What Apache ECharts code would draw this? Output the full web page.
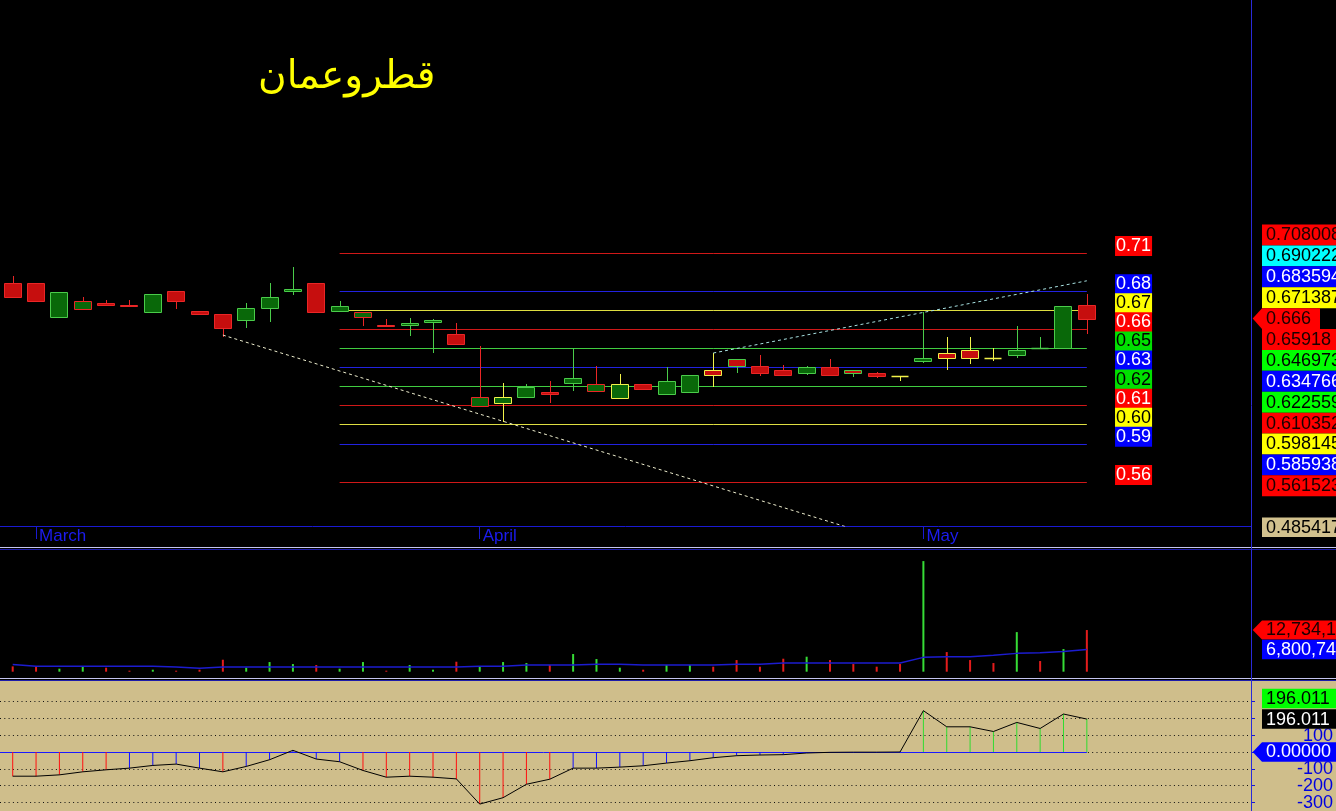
<!DOCTYPE html>
<html><head><meta charset="utf-8">
<script src="https://cdn.jsdelivr.net/npm/echarts@6/dist/echarts.min.js"></script>
<style>html,body{margin:0;padding:0;background:#000;overflow:hidden}#c{width:1336px;height:811px}</style>
</head><body><div id="c"></div>
<script>
// ---------------- data ----------------
const title = 'قطروعمان';
const dates = ['2010-02-25',
  '2010-03-01','2010-03-02','2010-03-03','2010-03-04','2010-03-07','2010-03-08','2010-03-09','2010-03-10','2010-03-11',
  '2010-03-14','2010-03-15','2010-03-16','2010-03-17','2010-03-18','2010-03-21','2010-03-22','2010-03-23','2010-03-28','2010-03-29',
  '2010-04-01','2010-04-04','2010-04-05','2010-04-06','2010-04-07','2010-04-08','2010-04-11','2010-04-12','2010-04-13','2010-04-14',
  '2010-04-15','2010-04-18','2010-04-19','2010-04-20','2010-04-21','2010-04-22','2010-04-25','2010-04-26','2010-04-27',
  '2010-05-02','2010-05-03','2010-05-04','2010-05-05','2010-05-06','2010-05-09','2010-05-10','2010-05-11'];
const opens  = [0.689,0.689,0.667,0.672,0.676,0.675,0.670,0.684,0.671,0.669,0.665,0.673,0.684,0.689,0.671,0.667,0.662,0.662,0.664,0.656,
                0.610,0.612,0.616,0.619,0.625,0.620,0.615,0.624,0.618,0.619,0.633,0.640,0.636,0.633,0.631,0.635,0.633,0.631,0.629,
                0.639,0.644,0.646,0.641,0.643,0.647,0.647,0.675];
const closes = [0.680,0.677,0.683,0.677,0.675,0.674,0.682,0.677,0.669,0.660,0.673,0.680,0.685,0.670,0.674,0.670,0.661,0.663,0.665,0.650,
                0.616,0.616,0.622,0.618,0.628,0.624,0.624,0.621,0.626,0.630,0.630,0.636,0.631,0.630,0.635,0.630,0.631,0.629,0.629,
                0.641,0.641,0.641,0.641,0.646,0.647,0.674,0.666];
const lows   = [0.680,0.677,0.667,0.672,0.675,0.674,0.670,0.672,0.669,0.654,0.660,0.664,0.681,0.670,0.671,0.6615,0.661,0.655,0.644,0.650,
                0.610,0.600,0.616,0.612,0.620,0.620,0.615,0.621,0.618,0.619,0.622,0.6315,0.629,0.630,0.630,0.630,0.6285,0.628,0.626,
                0.6375,0.633,0.637,0.639,0.641,0.647,0.647,0.6565];
const highs  = [0.693,0.689,0.683,0.680,0.678,0.678,0.682,0.684,0.671,0.669,0.676,0.689,0.699,0.689,0.677,0.670,0.6655,0.6665,0.666,0.663,
                0.6485,0.625,0.624,0.626,0.647,0.636,0.6305,0.624,0.635,0.630,0.644,0.640,0.643,0.6365,0.6355,0.640,0.633,0.632,0.629,
                0.670,0.6545,0.654,0.647,0.6615,0.654,0.674,0.682];
const volumes = [1630000,1630000,920000,1630000,1220000,310000,610000,310000,610000,3660000,1220000,2950000,2340000,2040000,920000,
                 2950000,310000,2040000,610000,3050000,1630000,2950000,2650000,2040000,5400000,3870000,1220000,610000,2040000,2040000,
                 1530000,3560000,1530000,3970000,4580000,3560000,2340000,1530000,2340000,33800000,6000000,3560000,2650000,12100000,
                 3260000,6920000,12734146];
const volumeMA = [2200000,1700000,1630000,1630000,1630000,1630000,1630000,1430000,1020000,1430000,1430000,1430000,1430000,1430000,
                  1430000,1430000,1430000,1430000,1430000,1430000,1630000,1630000,2040000,2040000,2040000,2240000,2240000,2040000,
                  2040000,2040000,2040000,2240000,2240000,2650000,2650000,2650000,2650000,2650000,2650000,4380000,4580000,4580000,
                  4990000,5600000,5800000,6200000,6800748];
const cci = [-144,-144,-136,-118,-106,-96,-80,-72,-96,-118,-86,-46,10,-42,-58,-110,-150,-144,-150,-160,-310,-272,-192,-162,
             -96,-96,-90,-82,-66,-52,-34,-22,-18,-16,-6,-2,-1,-1,0,246,150,150,122,176,140,226,196.011];
const levels = [0.708008,0.683594,0.671387,0.65918,0.646973,0.634766,0.622559,0.610352,0.598145,0.585938,0.561523];
const levelKinds = ['red','blue','yellow','red','green','blue','green','red','yellow','blue','red'];
const levelStart = 14;
const downTrend = [[9,0.6555],[46,0.485417]];
const upTrend = [[30,0.644],[46,0.690222]];
const cciGrid = [300,200,100,0,-100,-200,-300];
const cciLabels = [100,-100,-200,-300];
const monthNames = {'02':'February','03':'March','04':'April','05':'May'};

// ---------------- styles ----------------
const C = {rFill:'#c60e0e', rBorder:'#ea2626', gFill:'#096809', gBorder:'#4acc4a', yBorder:'#f2f24a'};
const LINE = {red:'#d01818', blue:'#2222e0', yellow:'#dede40', green:'#40cc40'};
const LBL = {red:{bg:'#ff0000',fg:'#ffffff'}, blue:{bg:'#0000ff',fg:'#ffffff'}, yellow:{bg:'#ffff00',fg:'#000000'}, green:{bg:'#00e000',fg:'#000000'}};
const TAG = {red:{bg:'#ff0000',fg:'#1a0000'}, cyan:{bg:'#00ffff',fg:'#000000'}, blue:{bg:'#0000ff',fg:'#ffffff'},
             yellow:{bg:'#ffff00',fg:'#000000'}, green:{bg:'#00ff00',fg:'#000000'}, tan:{bg:'#d2c18e',fg:'#000000'},
             black:{bg:'#000000',fg:'#ffffff'}};
const AXIS_BLUE = '#1a1ad2';
const TAN = '#cfbe8b';
const FONT = '"Liberation Sans", Arial, sans-serif';

const last = closes.length - 1;
const monthStarts = dates.map((d,i)=>i).filter(i => i>0 && dates[i].slice(5,7) !== dates[i-1].slice(5,7));
const X_MIN = -0.544, X_MAX = 53.03;

function renderCandle(params, api) {
  const i = api.value(0), o = api.value(1), c = api.value(2), l = api.value(3), h = api.value(4);
  const pc = i > 0 ? closes[i-1] : null;
  const up = c > o;
  let border;
  if (pc === null) border = up ? C.gBorder : C.rBorder;
  else border = c > pc ? C.gBorder : (c < pc ? C.rBorder : C.yBorder);
  const fill = up ? C.gFill : C.rFill;
  const pO = api.coord([i,o]), pC = api.coord([i,c]), pL = api.coord([i,l]), pH = api.coord([i,h]);
  const cx = Math.round(pO[0]) + 0.5;
  const top = Math.round(Math.min(pO[1],pC[1])) + 0.5;
  const bot = Math.round(Math.max(pO[1],pC[1])) + 0.5;
  const kids = [{type:'line', shape:{x1:cx,y1:Math.round(pH[1]),x2:cx,y2:Math.round(pL[1])}, style:{stroke:border,lineWidth:1}}];
  if (o === c) {
    kids.push({type:'line', shape:{x1:cx-9,y1:top,x2:cx+8,y2:top}, style:{stroke:border,lineWidth:1.5}});
  } else {
    kids.push({type:'rect', shape:{x:cx-9,y:top,width:17,height:Math.max(bot-top,1)}, style:{fill:fill,stroke:border,lineWidth:1}});
  }
  return {type:'group', children:kids};
}

const chart = echarts.init(document.getElementById('c'));
const hiddenX = g => ({gridIndex:g, type:'value', min:X_MIN, max:X_MAX, show:false});

const option = {
  backgroundColor:'#000000',
  animation:false,
  title:{text:title, left:253, top:53, textStyle:{color:'#ffff00', fontSize:39, fontWeight:'normal', fontFamily:'"DejaVu Sans", sans-serif'}},
  grid:[
    {left:0, top:0, width:1251, height:526},
    {left:0, top:550, width:1251, height:121.7},
    {left:0, top:681, width:1251, height:130}
  ],
  xAxis:[
    {gridIndex:0, type:'value', min:X_MIN, max:X_MAX, position:'bottom',
     axisLine:{show:true, onZero:false, lineStyle:{color:AXIS_BLUE,width:1}},
     axisTick:{show:true, customValues:monthStarts, length:13, lineStyle:{color:AXIS_BLUE}},
     axisLabel:{show:true, customValues:monthStarts, formatter:v=>monthNames[dates[Math.round(v)].slice(5,7)],
                color:'#1c1cf0', fontSize:17, fontFamily:'"Liberation Sans Narrow", "Arial Narrow", sans-serif',
                align:'left', verticalAlign:'top', margin:2, padding:[0,0,0,3]},
     splitLine:{show:false}},
    hiddenX(1), hiddenX(2)
  ],
  yAxis:[
    {gridIndex:0, type:'value', min:0.533344, max:0.869875, show:false},
    {gridIndex:1, type:'value', min:0, max:37190000, show:false},
    {gridIndex:2, type:'value', min:-351.2, max:422.6, position:'right',
     axisLine:{show:false, onZero:false}, splitLine:{show:false},
     axisTick:{show:true, customValues:cciGrid, length:4, lineStyle:{color:AXIS_BLUE}},
     axisLabel:{show:false}}
  ],
  series:[
    {type:'line', name:'down', xAxisIndex:0, yAxisIndex:0, data:downTrend, symbol:'none', silent:true, z:4,
     lineStyle:{color:'#ececcc', width:1, type:[3,3]},
     markLine:{silent:true, symbol:['none','none'], label:{show:false}, z:1,
       data: levels.map((v,k)=>[{coord:[levelStart,v], lineStyle:{color:LINE[levelKinds[k]],width:1,type:'solid'}},{coord:[last,v]}])}},
    {type:'line', name:'up', xAxisIndex:0, yAxisIndex:0, data:upTrend, symbol:'none', silent:true, z:4,
     lineStyle:{color:'#a8e2e2', width:1, type:[3,3]}},
    {type:'custom', name:'price', xAxisIndex:0, yAxisIndex:0, renderItem:renderCandle, z:3,
     encode:{x:0, y:[1,2,3,4]},
     data: opens.map((o,i)=>[i,o,closes[i],lows[i],highs[i]])},
    {type:'scatter', name:'levels', xAxisIndex:0, yAxisIndex:0, symbol:'rect', symbolSize:1, silent:true, z:6,
     itemStyle:{color:'rgba(0,0,0,0)', opacity:1},
     data: levels.map((v,k)=>({value:[48,v], label:{backgroundColor:LBL[levelKinds[k]].bg, color:LBL[levelKinds[k]].fg}})),
     label:{show:true, position:'inside', opacity:1, formatter:p=>p.value[1].toFixed(2), fontSize:18, fontFamily:FONT,
            padding:[1,1,0,1], lineHeight:19, offset:[0,-7]}},
    {type:'bar', name:'volume', xAxisIndex:1, yAxisIndex:1, barWidth:2, silent:true,
     data: volumes.map((v,i)=>({value:[i,v], itemStyle:{color: closes[i]>opens[i] ? '#36dc36' : '#e41c1c'}}))},
    {type:'line', name:'volMA', xAxisIndex:1, yAxisIndex:1, symbol:'none', silent:true,
     lineStyle:{color:'#1c1cd0', width:1.5}, data: volumeMA.map((v,i)=>[i,v])},
    {type:'bar', name:'cciHist', xAxisIndex:2, yAxisIndex:2, barWidth:1, silent:true, z:3,
     data: cci.map((v,i)=>({value:[i,v], itemStyle:{color: v>100 ? '#30dc30' : (v<-100 ? '#ff1010' : '#1010ff')}})),
     markLine:{silent:true, symbol:['none','none'], label:{show:false}, z:1,
       data: cciGrid.map(v=>({yAxis:v, lineStyle:{color:'#101010', width:1, type:[1,3.3]}}))
         .concat([[{coord:[X_MIN,0], lineStyle:{color:'#1a1aff', width:1, type:'solid'}},{coord:[last,0]}]])}},
    {type:'line', name:'cci', xAxisIndex:2, yAxisIndex:2, symbol:'none', silent:true, z:4,
     lineStyle:{color:'#000000', width:1}, data: cci.map((v,i)=>[i,v])}
  ]
};
chart.setOption(option);

// ---------------- value tags on the right ----------------
function tagEls(cy, text, kind, h, arrow, right) {
  const s = TAG[kind], x0 = 1262, r = right || 1340, hh = h/2;
  const shape = arrow
    ? {type:'polygon', shape:{points:[[1252.7,cy],[x0,cy-hh],[r,cy-hh],[r,cy+hh],[x0,cy+hh]]}, style:{fill:s.bg}, z:100}
    : {type:'rect', shape:{x:x0,y:cy-hh,width:r-x0,height:h}, style:{fill:s.bg}, z:100};
  return [shape, {type:'text', x:1266, y:cy+0.5, style:{text:text, fill:s.fg, font:'18px '+FONT, align:'left', verticalAlign:'middle'}, z:101}];
}
const priceEntries = levels.map((v,k)=>({v:v, kind:levelKinds[k]}))
  .concat([{v:upTrend[1][1], kind:'cyan'}, {v:closes[last], kind:'red', arrow:true, right:1320}])
  .sort((a,b)=>b.v-a.v);
let els = [
  {type:'rect', shape:{x:0,y:681,width:1336,height:130}, style:{fill:TAN}, z:0, silent:true},
  {type:'line', shape:{x1:0,y1:547.5,x2:1336,y2:547.5}, style:{stroke:'#c4c4f0',lineWidth:1}, z:50},
  {type:'line', shape:{x1:0,y1:549.5,x2:1336,y2:549.5}, style:{stroke:'#1c1caa',lineWidth:1}, z:50},
  {type:'line', shape:{x1:0,y1:678.5,x2:1336,y2:678.5}, style:{stroke:'#c4c4f0',lineWidth:1}, z:50},
  {type:'line', shape:{x1:0,y1:680.5,x2:1336,y2:680.5}, style:{stroke:'#1c1caa',lineWidth:1}, z:50},
  {type:'line', shape:{x1:1251.5,y1:0,x2:1251.5,y2:811}, style:{stroke:'#2a2ad8',lineWidth:1}, z:50}
];
// CCI axis labels, placed through the CCI axis scale
cciLabels.forEach(v => {
  els.push({type:'text', x:1333, y:chart.convertToPixel({yAxisIndex:2}, v) + 0.5,
            style:{text:String(v), fill:'#0000e0', font:'18px '+FONT, align:'right', verticalAlign:'middle'}, z:90});
});
priceEntries.forEach((e,k)=>{ els = els.concat(tagEls(235 + k*20.9, String(e.v), e.kind, 20.9, e.arrow, e.right)); });
els = els.concat(tagEls(527.2, String(downTrend[1][1]), 'tan', 19.5));
const yVol = chart.convertToPixel({yAxisIndex:1}, volumes[last]);
const yMA = Math.max(chart.convertToPixel({yAxisIndex:1}, volumeMA[last]), yVol + 19.5);
els = els.concat(tagEls(yVol, volumes[last].toLocaleString('en-US'), 'red', 19, true));
els = els.concat(tagEls(yMA, volumeMA[last].toLocaleString('en-US'), 'blue', 19.5));
const yC = chart.convertToPixel({yAxisIndex:2}, cci[last]);
els = els.concat(tagEls(yC - 20.5, cci[last].toFixed(3), 'green', 19.5));
els = els.concat(tagEls(yC, cci[last].toFixed(3), 'black', 19.5));
els = els.concat(tagEls(chart.convertToPixel({yAxisIndex:2}, 0), (0).toFixed(5), 'blue', 19.5, true));
chart.setOption({graphic:{elements:els}});
</script></body></html>
